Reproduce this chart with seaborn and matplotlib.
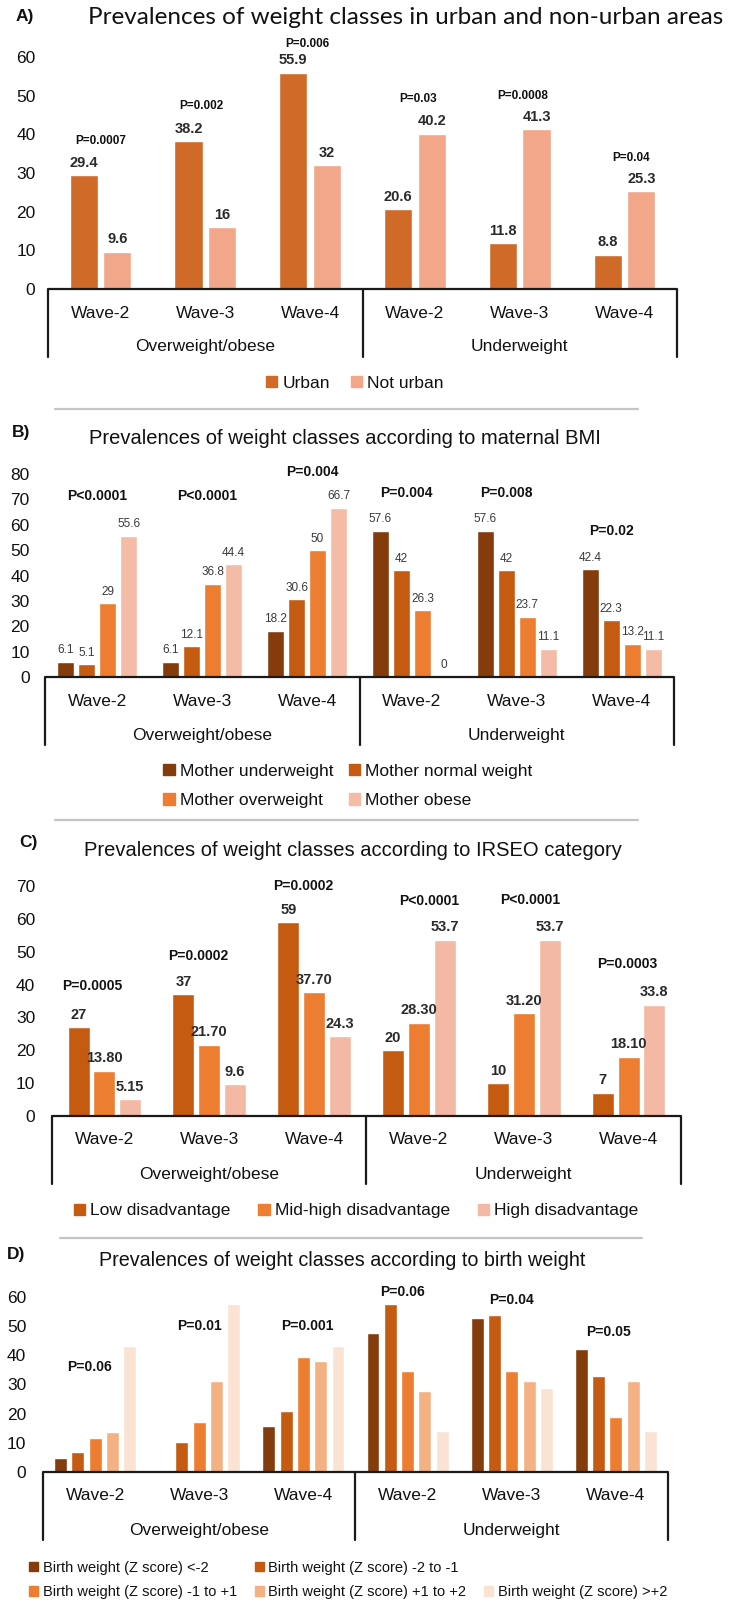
import matplotlib
matplotlib.use("Agg")
import matplotlib.pyplot as plt
from matplotlib.patches import Patch
from matplotlib.lines import Line2D
import pandas as pd
import seaborn as sns

# ---------------- data ----------------
waves = ["Wave-2", "Wave-3", "Wave-4"]
groups = ["Overweight/obese", "Underweight"]

# A) urban vs non-urban
area_levels = ["Urban", "Not urban"]
urban = [29.4, 38.2, 55.9, 20.6, 11.8, 8.8]
not_urban = [9.6, 16, 32, 40.2, 41.3, 25.3]
area_p = ["P=0.0007", "P=0.002", "P=0.006", "P=0.03", "P=0.0008", "P=0.04"]

# B) maternal BMI
bmi_levels = ["Mother underweight", "Mother normal weight",
              "Mother overweight", "Mother obese"]
mother_under = [6.1, 6.1, 18.2, 57.6, 57.6, 42.4]
mother_normal = [5.1, 12.1, 30.6, 42, 42, 22.3]
mother_over = [29, 36.8, 50, 26.3, 23.7, 13.2]
mother_obese = [55.6, 44.4, 66.7, 0, 11.1, 11.1]
bmi_p = ["P<0.0001", "P<0.0001", "P=0.004", "P=0.004", "P=0.008", "P=0.02"]

# C) IRSEO category (values as printed on the bars)
irseo_levels = ["Low disadvantage", "Mid-high disadvantage", "High disadvantage"]
low_dis = ["27", "37", "59", "20", "10", "7"]
mid_dis = ["13.80", "21.70", "37.70", "28.30", "31.20", "18.10"]
high_dis = ["5.15", "9.6", "24.3", "53.7", "53.7", "33.8"]
irseo_p = ["P=0.0005", "P=0.0002", "P=0.0002", "P<0.0001", "P<0.0001", "P=0.0003"]

# D) birth weight
bw_levels = ["Birth weight (Z score) <-2", "Birth weight (Z score) -2 to -1",
             "Birth weight (Z score) -1 to +1", "Birth weight (Z score) +1 to +2",
             "Birth weight (Z score) >+2"]
bw_lt_m2 = [4.8, 0, 15.9, 47.7, 52.8, 42.3]
bw_m2_m1 = [6.7, 10.3, 20.8, 57.5, 53.9, 33.0]
bw_m1_p1 = [11.5, 17.3, 39.5, 34.7, 34.7, 19.0]
bw_p1_p2 = [13.6, 31.1, 38.2, 27.8, 31.1, 31.1]
bw_gt_p2 = [43.3, 57.5, 43.3, 14.2, 28.8, 14.2]
bw_p = ["P=0.06", "P=0.01", "P=0.001", "P=0.06", "P=0.04", "P=0.05"]

slots = [f"{g} {w}" for g in groups for w in waves]

# ---------------- style ----------------
sns.set_theme(style="white")
plt.rcParams["font.family"] = ["Liberation Sans", "DejaVu Sans"]
TXT = "#111111"

W, H = 731, 1604
fig = plt.figure(figsize=(W / 100, H / 100), dpi=100)
fig.patch.set_facecolor("white")


def fx(px):
    return px / W


def fy(py):
    return 1 - py / H


def long_frame(levels, series):
    rows = []
    for lev, vals in zip(levels, series):
        for s, v in zip(slots, vals):
            rows.append({"slot": s, "series": lev, "value": float(v)})
    return pd.DataFrame(rows)


def panel(spec, levels, series, colors, width, gap, ymax, tick_pad,
          p_text, p_x, p_y, p_size, labels=None, label_size=10,
          label_color="#2a2a2a", label_weight="bold",
          wave_size=12.5, group_size=12.5, tick_size=12.5):
    left, right, top, bottom = spec
    ax = fig.add_axes([fx(left), fy(bottom), (right - left) / W, (bottom - top) / H])
    df = long_frame(levels, series)
    sns.barplot(data=df, x="slot", y="value", hue="series", order=slots,
                hue_order=levels, palette=colors, width=width, gap=gap,
                saturation=1, errorbar=None, legend=False, ax=ax)
    ax.set_xlim(-0.5, 5.5)
    ax.set_ylim(0, ymax)
    ax.set_yticks(range(0, ymax + 1, 10))
    ax.tick_params(axis="y", length=0, pad=tick_pad, labelsize=tick_size,
                   labelcolor=TXT)
    ax.set_xticks([])
    ax.set_xlabel("")
    ax.set_ylabel("")
    for s in ax.spines.values():
        s.set_visible(False)
    ax.set_facecolor("none")

    if labels is not None:
        for cont, labs in zip(ax.containers, labels):
            ax.bar_label(cont, labels=labs, padding=4, fontsize=label_size,
                         color=label_color, fontweight=label_weight)

    for t, x, y in zip(p_text, p_x, p_y):
        ax.text(x, y, t, ha="center", va="center", fontsize=p_size,
                color=TXT, fontweight="bold")

    # category "table" under the bars
    hpx = bottom - top
    trans = ax.get_xaxis_transform()
    ax.plot([-0.5, 5.5], [0, 0], transform=trans, color="#1a1a1a", lw=1.6,
            clip_on=False, solid_capstyle="butt")
    for xv in (-0.5, 2.5, 5.5):
        ax.plot([xv, xv], [0, -68 / hpx], transform=trans, color="#1a1a1a",
                lw=1.6, clip_on=False)
    for i, w in enumerate(waves * 2):
        ax.text(i, -24 / hpx, w, transform=trans, ha="center", va="center",
                fontsize=wave_size, color=TXT)
    for i, g in zip((1, 4), groups):
        ax.text(i, -58 / hpx, g, transform=trans, ha="center", va="center",
                fontsize=group_size, color=TXT)
    return ax


def header(letter, lx, ly, title, tx, ty, size, family=None):
    fig.text(fx(lx), fy(ly), letter, ha="left", va="center", fontsize=12.5,
             fontweight="bold", color=TXT)
    kw = {} if family is None else {"family": family}
    fig.text(fx(tx), fy(ty), title, ha="center", va="center", fontsize=size,
             color=TXT, **kw)


def separator(x0, x1, y):
    fig.add_artist(Line2D([fx(x0), fx(x1)], [fy(y), fy(y)], color="#c4c4c4", lw=1.6))


def legend(handles, labels, cx, cy, ncol, size, colsp, rowsp=0.5):
    fig.legend(handles, labels, loc="center", bbox_to_anchor=(fx(cx), fy(cy)),
               ncol=ncol, frameon=False, fontsize=size, handlelength=0.65,
               handleheight=0.65, handletextpad=0.3, columnspacing=colsp,
               labelspacing=rowsp, borderaxespad=0, borderpad=0,
               labelcolor=TXT)


# ---------------- A ----------------
col_a = ["#CF6A28", "#F2A68A"]
header("A)", 16, 17, "Prevalences of weight classes in urban and non-urban areas",
       406, 17, 17.5, family=["Lato", "DejaVu Sans"])
panel((48, 677, 57, 289), area_levels, [urban, not_urban], col_a,
      width=0.64, gap=0.16, ymax=60, tick_pad=9,
      p_text=area_p, p_x=[0.0, 0.96, 1.97, 3.03, 4.03, 5.06],
      p_y=[38.2, 47.2, 63.4, 49.2, 49.8, 33.9], p_size=8.5,
      labels=[[f"{v:g}" for v in urban], [f"{v:g}" for v in not_urban]],
      label_size=10.5)
legend([Patch(color=c) for c in col_a], area_levels, 355, 383, 2, 12.5, 1.2)
separator(55, 638, 409)

# ---------------- B ----------------
col_b = ["#843C0C", "#C55A11", "#ED7D31", "#F4BCA6"]
header("B)", 12, 432, "Prevalences of weight classes according to maternal BMI",
       345, 439, 14.5)
panel((45, 674, 474, 677), bmi_levels,
      [mother_under, mother_normal, mother_over, mother_obese], col_b,
      width=0.8, gap=0.19, ymax=80, tick_pad=11,
      p_text=bmi_p, p_x=[0.0, 1.05, 2.05, 2.95, 3.9, 4.9],
      p_y=[71.3, 71.3, 80.8, 72.6, 72.6, 57.6], p_size=10,
      labels=[[f"{v:g}" for v in s] for s in
              (mother_under, mother_normal, mother_over, mother_obese)],
      label_size=8.5, label_color="#3a3a3a", label_weight="normal")
hb = [Patch(color=c) for c in col_b]
legend([hb[0], hb[2], hb[1], hb[3]],
       [bmi_levels[0], bmi_levels[2], bmi_levels[1], bmi_levels[3]],
       348, 786, 2, 12.5, 0.9, rowsp=0.85)
separator(55, 638, 820)

# ---------------- C ----------------
col_c = ["#C55A11", "#ED7D31", "#F4B9A4"]
header("C)", 19, 843, "Prevalences of weight classes according to IRSEO category",
       353, 850, 14.5)
panel((52, 681, 886, 1116), irseo_levels, [
      [float(v) for v in low_dis], [float(v) for v in mid_dis],
      [float(v) for v in high_dis]], col_c,
      width=0.74, gap=0.15, ymax=70, tick_pad=12,
      p_text=irseo_p, p_x=[-0.12, 0.89, 1.9, 3.1, 4.06, 4.99],
      p_y=[39.5, 48.6, 70, 65.3, 65.6, 46.2], p_size=10,
      labels=[low_dis, mid_dis, high_dis], label_size=10.5)
legend([Patch(color=c) for c in col_c], irseo_levels, 356, 1211, 3, 12.5, 1.6)
separator(60, 642, 1238)

# ---------------- D ----------------
col_d = ["#843C0C", "#C55A11", "#ED7D31", "#F4B183", "#FBE3D3"]
header("D)", 7, 1255, "Prevalences of weight classes according to birth weight",
       342, 1261, 14.2)
panel((43, 668, 1297, 1472), bw_levels,
      [bw_lt_m2, bw_m2_m1, bw_m1_p1, bw_p1_p2, bw_gt_p2], col_d,
      width=0.83, gap=0.25, ymax=60, tick_pad=12,
      p_text=bw_p, p_x=[-0.05, 1.0, 2.04, 2.95, 4.0, 4.93],
      p_y=[36, 50, 50, 61.7, 59, 48], p_size=10)
hd = [Patch(color=c) for c in col_d]
blank = Patch(color="none")
legend([hd[0], hd[2], hd[1], hd[3], blank, hd[4]],
       [bw_levels[0], bw_levels[2], bw_levels[1], bw_levels[3], "", bw_levels[4]],
       348, 1580, 3, 10.5, 1.2, rowsp=0.75)

fig.savefig("out.png", dpi=100)
